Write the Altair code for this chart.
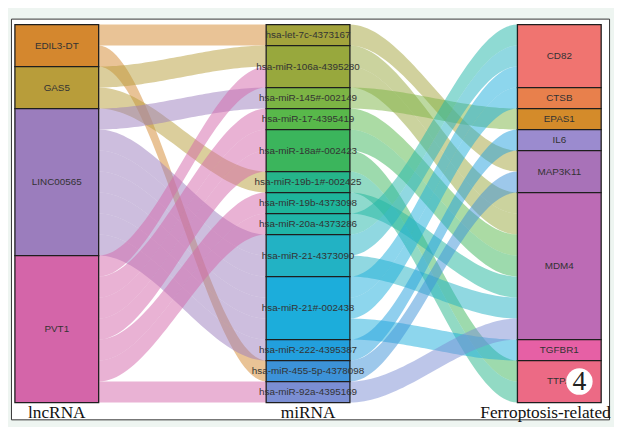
import altair as alt
import pandas as pd
import numpy as np

# ---------------- data ----------------
lnc_names = ["EDIL3-DT", "GAS5", "LINC00565", "PVT1"]
lnc_colors = ["#d4872e", "#b89d3a", "#9b7dbd", "#d465a9"]

mirna_names = [
    "hsa-let-7c-4373167", "hsa-miR-106a-4395280", "hsa-miR-145#-002149",
    "hsa-miR-17-4395419", "hsa-miR-18a#-002423", "hsa-miR-19b-1#-002425",
    "hsa-miR-19b-4373098", "hsa-miR-20a-4373286", "hsa-miR-21-4373090",
    "hsa-miR-21#-002438", "hsa-miR-222-4395387", "hsa-miR-455-5p-4378098",
    "hsa-miR-92a-4395169",
]
mirna_colors = [
    "#a3a33c", "#98a83d", "#7cb444", "#58b84a", "#3bb55c", "#25b58a",
    "#1eb59b", "#20b5a8", "#22b2c4", "#1caddb", "#229fdd", "#3c92d8",
    "#7b8ed3",
]

gene_names = ["CD82", "CTSB", "EPAS1", "IL6", "MAP3K11", "MDM4", "TGFBR1", "TTPA"]
gene_colors = ["#f07470", "#e8804c", "#d48b2a", "#9b8bcf", "#a872b8",
               "#bc6bb5", "#e660a5", "#ec6a85"]

axis_titles = ["lncRNA", "miRNA", "Ferroptosis-related"]

# lncRNA -> miRNA links (one unit each)
left_src = ["EDIL3-DT", "EDIL3-DT",
            "GAS5", "GAS5",
            "LINC00565", "LINC00565", "LINC00565", "LINC00565", "LINC00565",
            "LINC00565", "LINC00565",
            "PVT1", "PVT1", "PVT1", "PVT1", "PVT1", "PVT1", "PVT1"]
left_tgt = ["hsa-let-7c-4373167", "hsa-miR-455-5p-4378098",
            "hsa-miR-106a-4395280", "hsa-miR-19b-1#-002425",
            "hsa-miR-145#-002149", "hsa-miR-21-4373090", "hsa-miR-21-4373090",
            "hsa-miR-21#-002438", "hsa-miR-21#-002438", "hsa-miR-21#-002438",
            "hsa-miR-222-4395387",
            "hsa-miR-106a-4395280", "hsa-miR-17-4395419", "hsa-miR-18a#-002423",
            "hsa-miR-18a#-002423", "hsa-miR-19b-4373098", "hsa-miR-20a-4373286",
            "hsa-miR-92a-4395169"]

# miRNA -> gene links (one unit each)
right_src = ["hsa-let-7c-4373167",
             "hsa-miR-106a-4395280", "hsa-miR-106a-4395280",
             "hsa-miR-145#-002149",
             "hsa-miR-17-4395419",
             "hsa-miR-18a#-002423", "hsa-miR-18a#-002423",
             "hsa-miR-19b-1#-002425",
             "hsa-miR-19b-4373098",
             "hsa-miR-20a-4373286",
             "hsa-miR-21-4373090", "hsa-miR-21-4373090",
             "hsa-miR-21#-002438", "hsa-miR-21#-002438", "hsa-miR-21#-002438",
             "hsa-miR-222-4395387",
             "hsa-miR-455-5p-4378098",
             "hsa-miR-92a-4395169"]
right_tgt = ["MAP3K11",
             "MDM4", "MDM4",
             "EPAS1",
             "MDM4",
             "MDM4", "TTPA",
             "TTPA",
             "MDM4",
             "CD82",
             "CD82", "MDM4",
             "CD82", "CTSB", "TGFBR1",
             "IL6",
             "MAP3K11",
             "MDM4"]

badge = ["4"]

# ---------------- layout (computed from data) ----------------
W = 1.0 / 3.0
AX = [1.0, 2.0, 3.0]


def node_rows(names, colors, counts, xpos):
    rows, y, tops = [], 0.0, {}
    for n, c in zip(names, colors):
        k = counts.get(n, 0)
        rows.append(dict(name=n, color=c, x0=xpos - W / 2, x1=xpos + W / 2,
                         y0=y, y1=y + k, ym=y + k / 2, xm=xpos))
        tops[n] = y
        y += k
    return rows, tops


def count(lst):
    d = {}
    for v in lst:
        d[v] = d.get(v, 0) + 1
    return d


lnc_rows, lnc_top = node_rows(lnc_names, lnc_colors, count(left_src), AX[0])
mir_rows, mir_top = node_rows(mirna_names, mirna_colors, count(left_tgt), AX[1])
gene_rows, gene_top = node_rows(gene_names, gene_colors, count(right_tgt), AX[2])
total = float(len(left_src))


def flow_rows(srcs, tgts, s_names, t_names, s_top, t_top, xs, xt, colmap, tag):
    idx = list(range(len(srcs)))
    si = {n: i for i, n in enumerate(s_names)}
    ti = {n: i for i, n in enumerate(t_names)}
    s_slot, t_slot = {}, {}
    off = {}
    for i in sorted(idx, key=lambda i: (si[srcs[i]], ti[tgts[i]])):
        s = srcs[i]
        s_slot[i] = s_top[s] + off.get(s, 0)
        off[s] = off.get(s, 0) + 1
    off = {}
    for i in sorted(idx, key=lambda i: (ti[tgts[i]], si[srcs[i]])):
        t = tgts[i]
        t_slot[i] = t_top[t] + off.get(t, 0)
        off[t] = off.get(t, 0) + 1
    rows = []
    t = np.linspace(0, 1, 48)
    sm = t * t * (3 - 2 * t)
    xa, xb = xs + W / 2, xt - W / 2
    for i in idx:
        a, b = s_slot[i], t_slot[i]
        for tt, ss in zip(t, sm):
            yt = a + (b - a) * ss
            rows.append(dict(fid=f"{tag}{i}", x=xa + (xb - xa) * tt,
                             yt=yt, yb=yt + 1, color=colmap[srcs[i]]))
    return rows


lnc_col = dict(zip(lnc_names, lnc_colors))
mir_col = dict(zip(mirna_names, mirna_colors))
flows = flow_rows(left_src, left_tgt, lnc_names, mirna_names, lnc_top, mir_top,
                  AX[0], AX[1], lnc_col, "L")
flows += flow_rows(right_src, right_tgt, mirna_names, gene_names, mir_top, gene_top,
                   AX[1], AX[2], mir_col, "R")

flows_df = pd.DataFrame(flows)
nodes_df = pd.DataFrame(lnc_rows + mir_rows + gene_rows)
titles_df = pd.DataFrame(dict(t=axis_titles[:2], x=AX[:2], y=[total + 0.5] * 2))
title3_df = pd.DataFrame(dict(t=[axis_titles[2]], x=[AX[2]], y=[total + 0.5]))
badge_df = pd.DataFrame(dict(t=badge, x=[AX[2] + 0.08], y=[total - 1.0]))

# scales (plot panel slightly larger than the strata)
xs = alt.Scale(domain=[AX[0] - W / 2 - 0.0157, AX[2] + W / 2 + 0.0314], nice=False, zero=False)
ys = alt.Scale(domain=[-0.282, total + 0.80], reverse=True, nice=False, zero=False)

X = lambda f: alt.X(f, type="quantitative", scale=xs, axis=None)
Y = lambda f: alt.Y(f, type="quantitative", scale=ys, axis=None)

flow_layer = alt.Chart(flows_df).mark_area(opacity=0.5, strokeWidth=0).encode(
    x=X("x"), y=Y("yt"), y2="yb:Q",
    color=alt.Color("color:N", scale=None), detail="fid:N",
)

node_layer = alt.Chart(nodes_df).mark_rect(stroke="#1e1e1e", strokeWidth=1.3).encode(
    x=X("x0"), x2="x1:Q", y=Y("y0"), y2="y1:Q",
    fill=alt.Fill("color:N", scale=None),
)

label_layer = alt.Chart(nodes_df).mark_text(
    font="Liberation Sans", fontSize=10, color="#333333"
).encode(x=X("xm"), y=Y("ym"), text="name:N")

title_layer = alt.Chart(titles_df).mark_text(
    font="Liberation Serif", fontSize=17.5, color="#111111", baseline="middle"
).encode(x=X("x"), y=Y("y"), text="t:N")

title3_layer = alt.Chart(title3_df).mark_text(
    font="Liberation Serif", fontSize=17.5, color="#111111", baseline="middle", dx=-14
).encode(x=X("x"), y=Y("y"), text="t:N")

badge_dot = alt.Chart(badge_df).mark_point(
    filled=True, shape="circle", size=720, color="white", opacity=1
).encode(x=X("x"), y=Y("y"))

badge_txt = alt.Chart(badge_df).mark_text(
    font="Liberation Serif", fontSize=28, color="#222222", baseline="middle", dy=1
).encode(x=X("x"), y=Y("y"), text="t:N")

chart = alt.layer(
    flow_layer, node_layer, label_layer, title_layer, title3_layer, badge_dot, badge_txt
).properties(
    width=606, height=406,
    background="#eef5f1",
    padding={"left": 3, "top": 8, "right": 5, "bottom": 5},
    autosize=alt.AutoSizeParams(type="none"),
).configure_view(stroke="#333333", strokeWidth=1, fill="white")

chart.save("out.html", embed_options={"renderer": "svg", "actions": False})
